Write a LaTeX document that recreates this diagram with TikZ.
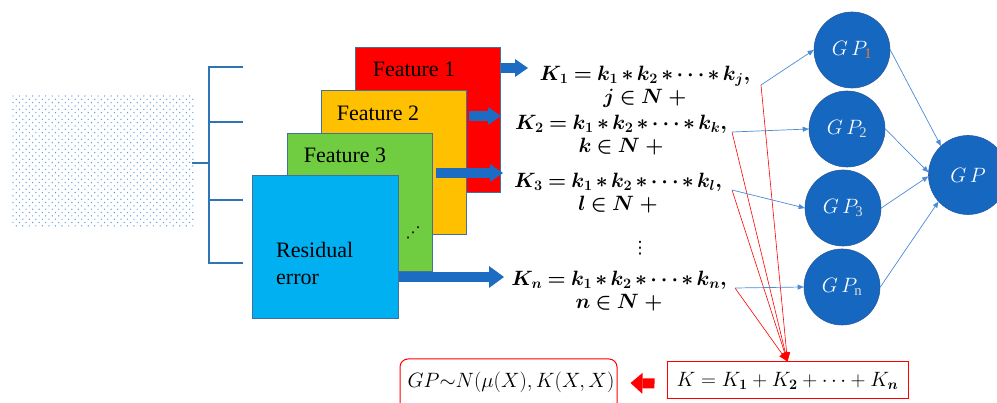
\documentclass[tikz,border=0pt]{standalone}
\usepackage{amsmath,bm}
\usepackage{fontspec}
\setmainfont{Liberation Serif}
\newfontfamily\dvs{DejaVu Sans}
\usetikzlibrary{arrows.meta,calc}
\definecolor{dotblue}{RGB}{91,155,213}
\definecolor{brblue}{RGB}{46,117,182}
\definecolor{lnblue}{RGB}{74,139,214}
\definecolor{arblue}{RGB}{28,108,196}
\definecolor{gpblue}{RGB}{22,103,192}
\definecolor{gpedge}{RGB}{40,90,160}
\definecolor{sqborder}{RGB}{65,113,156}
\definecolor{sqred}{RGB}{255,0,0}
\definecolor{sqorange}{RGB}{255,192,0}
\definecolor{sqgreen}{RGB}{112,204,64}
\definecolor{sqblue}{RGB}{0,176,240}
\definecolor{subor}{RGB}{237,125,49}
\definecolor{subgr}{RGB}{220,220,220}
\newcommand{\tightmath}{\medmuskip=2.5mu plus 1mu\thickmuskip=4mu plus 2mu}
\begin{document}
\begin{tikzpicture}[x=1pt,y=-1pt,
  sq/.style={draw=sqborder,line width=0.8pt,inner sep=0,anchor=north west},
  flab/.style={font=\fontsize{22}{26}\selectfont,inner sep=0},
  form/.style={font=\fontsize{21}{23.5}\selectfont\boldmath\tightmath,align=center,inner sep=0},
  gpc/.style={circle,fill=gpblue,draw=gpedge,line width=0.6pt,minimum size=76pt,inner sep=0,text=white,font=\fontsize{21}{22}\selectfont},
  barrow/.style={draw=arblue,line width=10pt,-{Triangle[length=13pt,width=18pt,line width=0pt]}},
  bthin/.style={draw=lnblue,line width=0.7pt,-{Triangle[length=6pt,width=5pt]}},
  rthin/.style={draw=red,line width=0.6pt,-{Triangle[length=9pt,width=7pt]}},
  rbox/.style={draw=red,line width=1pt,fill=white,inner sep=0}
]
\useasboundingbox (0,0) rectangle (997,403);
% dot field
\foreach \j in {0,...,39}{
  \pgfmathsetmacro{\off}{mod(\j,2)*3.27}
  \foreach \i in {0,...,27}{
    \fill[dotblue] (13+\off+6.54*\i,96+3.33*\j) circle (0.7);
  }
}
\coordinate (dotsE) at (192,163);
% bracket
\coordinate (brM) at (209,163);
\coordinate (brT) at (209,67);
\coordinate (brB) at (209,263);
\draw[brblue,line width=2pt] (dotsE) -- (brM);
\draw[brblue,line width=2pt] ($(brT)+(34,0)$) -- (brT) -- (brB) -- ($(brB)+(34,0)$);
\draw[brblue,line width=2pt] (209,122) -- (243,122);
\draw[brblue,line width=2pt] (209,200) -- (243,200);
% squares
\node[sq,fill=sqred,minimum width=145pt,minimum height=145pt] (red) at (355,47) {};
\node[sq,fill=sqorange,minimum width=145pt,minimum height=144pt] (orange) at (321,90) {};
\node[sq,fill=sqgreen,minimum width=145pt,minimum height=138pt] (green) at (287,133) {};
\node[sq,fill=sqblue,minimum width=146pt,minimum height=143pt] (blue) at (252,175) {};
\node[flab] (f1) at (414,69) {Feature 1};
\node[flab] (f2) at (378,113) {Feature 2};
\node[flab] (f3) at (345,155) {Feature 3};
\node[font=\fontsize{22}{27}\selectfont,align=left,inner sep=0,anchor=west] (res) at (276,263) {Residual\\error};
\node[inner sep=0,font=\dvs\fontsize{15}{15}\selectfont] (dd) at (413,233) {⋰};
% formulas
\node[form] (k1) at (645,87) {$K_1 = k_1 \ast k_2 \ast \cdots \ast k_j,$\\$j \in N\;{+}$};
\node[form] (k2) at (621,135) {$K_2 = k_1 \ast k_2 \ast \cdots \ast k_k,$\\$k \in N\;{+}$};
\node[form] (k3) at (618,193) {$K_3 = k_1 \ast k_2 \ast \cdots \ast k_l,$\\$l \in N\;{+}$};
\node[inner sep=0,font=\dvs\fontsize{17}{17}\selectfont] (vd) at (640,248) {⋮};
\node[form] (kn) at (619,291) {$K_n = k_1 \ast k_2 \ast \cdots \ast k_n,$\\$n \in N\;{+}$};
% block arrows
\coordinate (t1) at (528,68);
\coordinate (t2) at (501,116);
\coordinate (t3) at (503,173);
\coordinate (tn) at (504,277);
\draw[barrow] (red.east |- t1) -- (t1);
\draw[barrow] ($(orange.east |- t2)+(2,0)$) -- (t2);
\draw[barrow] ($(green.east |- t3)+(3,0)$) -- (t3);
\draw[barrow,-{Triangle[length=15pt,width=22pt,line width=0pt]}] (blue.east |- tn) -- (tn);
% GP circles
\node[gpc] (gp1) at (852,50) {$G\,P_{\color{subor}\mathrm{1}}$};
\node[gpc] (gp2) at (847,129) {$G\,P_{\color{subgr}\mathrm{2}}$};
\node[gpc] (gp3) at (843,208) {$G\,P_{\color{subgr}\mathrm{3}}$};
\node[gpc] (gpn) at (842,287) {$G\,P_{\color{subgr}\mathrm{n}}$};
\node[gpc,minimum size=79pt] (gp) at (968,175) {$G\,P$};
% connector origins
\coordinate (p1) at (761,85);
\coordinate (p2) at (732,132);
\coordinate (p3) at (732,190);
\coordinate (p4) at (735,288);
% bottom boxes
\node[rbox,minimum width=241pt,minimum height=37pt,font=\fontsize{20}{24}\selectfont] (kbox) at (787.5,380.5) {$K = K_{\bm 1} + K_{\bm 2} + \cdots + K_{\bm n}$};
\node[rbox,rounded corners=8pt,minimum width=217pt,minimum height=52pt] (gbox) at (508.5,385) {};
\node[inner sep=0,font=\fontsize{21}{24}\selectfont] (gtext) at (511,382) {$GP{\sim}N(\mu(X),K(X,X)$};
% red connectors
\foreach \p in {p1,p2,p3,p4}{\draw[rthin] (\p) -- (kbox.north);}
% blue thin connectors
\draw[bthin] (p1) -- (gp1.west);
\draw[bthin] (p2) -- (gp2.west);
\draw[bthin] (p3) -- (gp3.west);
\draw[bthin] (p4) -- (gpn.west);
\draw[bthin] (gp1.east) -- (gp.133);
\draw[bthin] (gp2.east) -- (gp.176);
\draw[bthin] (gp3.east) -- (gp.182);
\draw[bthin] (gpn.east) -- (gp.222);
% red block arrow
\draw[draw=red,line width=10pt,-{Triangle[length=12pt,width=21pt,line width=0pt]}] ($(kbox.west)+(-12,3)$) -- ($(gbox.east)+(13,-2)$);
\end{tikzpicture}
\end{document}
